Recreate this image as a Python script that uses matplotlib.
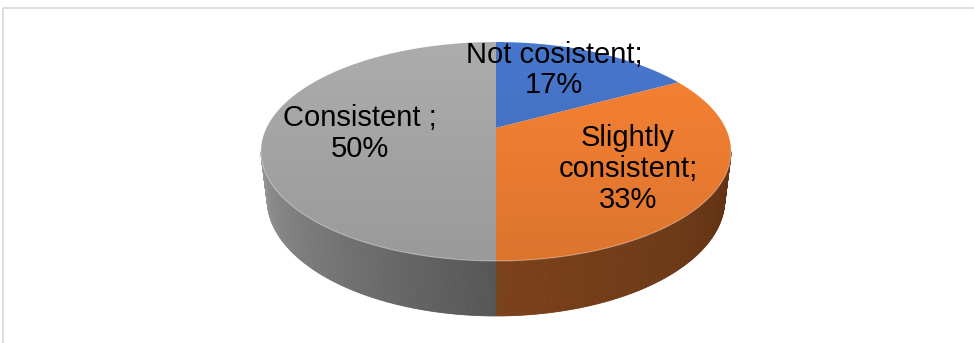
import numpy as np
import matplotlib
matplotlib.use("Agg")
import matplotlib.pyplot as plt
from matplotlib.patches import Polygon
from matplotlib.colors import to_rgb

plt.rcParams['font.family'] = ['Liberation Sans', 'DejaVu Sans']

# Data
categories = ["Not cosistent;", "Slightly\nconsistent;", "Consistent ;"]
values = [17, 33, 50]
pct_labels = ["17%", "33%", "50%"]
colors = ["#4472c4", "#ed7d31", "#a5a5a5"]

# Layout of the 3D pie (pixel space)
W, H = 974, 343
CX, CY = 496, 128          # projected centre of the top face
K = 229.5                  # radius scale
TILT_S, TILT_C = 0.455, 0.8905
PERSP = 0.241              # radius / camera distance
DEPTH = 0.235              # thickness in radius units


def project(theta_deg, h):
    t = np.radians(theta_deg)
    X = np.sin(t)
    Z = np.cos(t)
    ycam = Z * TILT_S + h * TILT_C
    depth = 1 + PERSP * (Z * TILT_C - h * TILT_S)
    return CX + K * X / depth, CY - K * ycam / depth


def shade(theta_deg):
    return np.interp(theta_deg, [90, 180, 270], [0.38, 0.52, 0.97])


fig = plt.figure(figsize=(W / 100, H / 100), dpi=100)
ax = fig.add_axes([0, 0, 1, 1])
ax.set_xlim(0, W)
ax.set_ylim(H, 0)
ax.axis('off')

# Outer chart frame
ax.plot([3, W], [8, 8], color="#d9dee5", lw=1.4, solid_capstyle='butt')
ax.plot([3, 3], [8, H], color="#d9dee5", lw=1.4, solid_capstyle='butt')

fracs = np.array(values, dtype=float) / np.sum(values)
bounds = np.concatenate([[0], np.cumsum(fracs) * 360])

# Visible side wall range (silhouette of the cylinder)
a = PERSP * TILT_C
vis_lo = np.degrees(np.arccos(-a))
vis_hi = 360 - vis_lo

# Side walls, drawn as thin shaded strips
for i, col in enumerate(colors):
    t0, t1 = max(bounds[i], vis_lo), min(bounds[i + 1], vis_hi)
    if t1 <= t0:
        continue
    base = np.array(to_rgb(col))
    ts = np.linspace(t0, t1, 160)
    for ta, tb in zip(ts[:-1], ts[1:]):
        xa, ya = project(ta, 0)
        xb, yb = project(tb, 0)
        xc, yc = project(tb, -DEPTH)
        xd, yd = project(ta, -DEPTH)
        c = np.clip(base * shade(0.5 * (ta + tb)), 0, 1)
        ax.add_patch(Polygon([[xa, ya], [xb, yb], [xc, yc], [xd, yd]],
                             closed=True, facecolor=c, edgecolor=c, lw=0.6))

# Top faces with a soft vertical gradient
yy = np.linspace(0, 1, 256)[:, None]
for i, col in enumerate(colors):
    base = np.array(to_rgb(col))
    ts = np.linspace(bounds[i], bounds[i + 1], 200)
    px, py = project(ts, 0)
    verts = np.column_stack([np.r_[CX, px], np.r_[CY, py]])
    poly = Polygon(verts, closed=True, facecolor='none', edgecolor='none')
    ax.add_patch(poly)
    f = 1.05 - 0.12 * yy
    img = np.clip(base[None, None, :] * f[:, :, None], 0, 1)
    img = np.repeat(img, 2, axis=1)
    im = ax.imshow(img, extent=[250, 740, 265, 35], aspect='auto',
                   interpolation='bilinear', zorder=2)
    im.set_clip_path(poly)

# Light rim along the front edge of the top face
ts = np.linspace(vis_lo, vis_hi, 300)
rx, ry = project(ts, 0)
ax.plot(rx, ry, color="white", alpha=0.35, lw=0.8, zorder=3)

# Data labels
label_pos = [(554, 70), (628, 169), (360, 133.5)]
for (x, y), cat, pct in zip(label_pos, categories, pct_labels):
    ax.text(x, y, f"{cat}\n{pct}", ha='center', va='center', fontsize=21,
            color='black', linespacing=1.12, zorder=5)

fig.savefig("out.png", dpi=100)
